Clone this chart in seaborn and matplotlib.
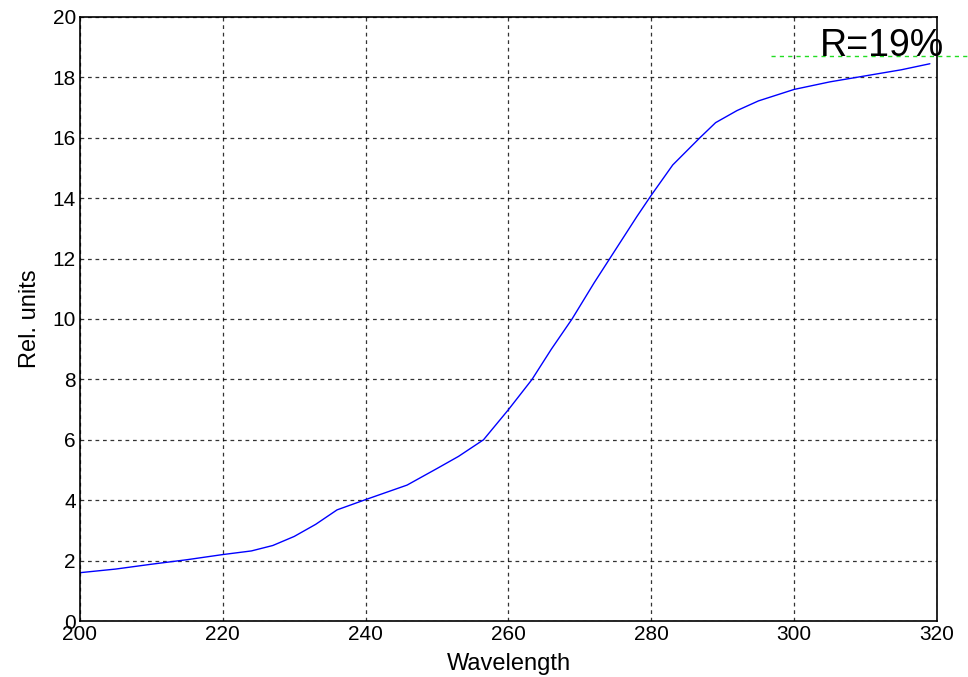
import numpy as np
import pandas as pd
import matplotlib
matplotlib.use("Agg")
import matplotlib.pyplot as plt
import seaborn as sns

wavelength = [200, 205, 210, 215, 220, 224, 227, 230, 233, 236, 240, 245.8, 250, 253,
              256.5, 260, 263.3, 266, 268.9, 272, 275, 278, 280, 283, 286.8, 289,
              292, 295, 300, 305, 310, 315, 319]
rel_units = [1.6, 1.72, 1.88, 2.03, 2.2, 2.32, 2.5, 2.8, 3.2, 3.68, 4.02, 4.5, 5.05, 5.45,
             6.0, 7.0, 8.0, 9.0, 10.0, 11.2, 12.3, 13.4, 14.1, 15.1, 16.0, 16.5,
             16.9, 17.22, 17.6, 17.85, 18.05, 18.25, 18.45]
x_ticks = [200, 220, 240, 260, 280, 300, 320]
y_ticks = [0, 2, 4, 6, 8, 10, 12, 14, 16, 18, 20]
ref_level = 18.72
ref_label = "R=19%"

sns.set_style("white")
plt.rcParams['font.family'] = ['Liberation Sans', 'DejaVu Sans']
plt.rcParams['text.color'] = 'black'
plt.rcParams['axes.labelcolor'] = 'black'

df = pd.DataFrame({'Wavelength': wavelength, 'Rel. units': rel_units})

fig = plt.figure(figsize=(9.68, 6.77), dpi=100)
ax = fig.add_axes([0.0826, 0.0827, 0.8854, 0.8923])
sns.lineplot(data=df, x='Wavelength', y='Rel. units', color='blue', linewidth=1, ax=ax)

ax.set_xlim(200, 320)
ax.set_ylim(0, 20)
ax.set_xticks(x_ticks)
ax.set_yticks(y_ticks)
ax.grid(True, color='black', linestyle=(0, (3, 3)), linewidth=0.9, alpha=0.8)
ax.tick_params(direction='in', length=5, labelsize=15, colors='black', pad=3)
ax.set_xlabel('Wavelength', fontsize=17, labelpad=6)
ax.set_ylabel('Rel. units', fontsize=17, labelpad=8)
for s in ax.spines.values():
    s.set_color('black')
    s.set_linewidth(1.2)

ax.plot([296.8, 324.5], [ref_level, ref_level], color='#22dd22', linestyle=(0, (3, 3)),
        linewidth=1, clip_on=False)
ax.text(303.6, ref_level, ref_label, fontsize=27, va='baseline', ha='left')

fig.savefig('out.png', dpi=100)
